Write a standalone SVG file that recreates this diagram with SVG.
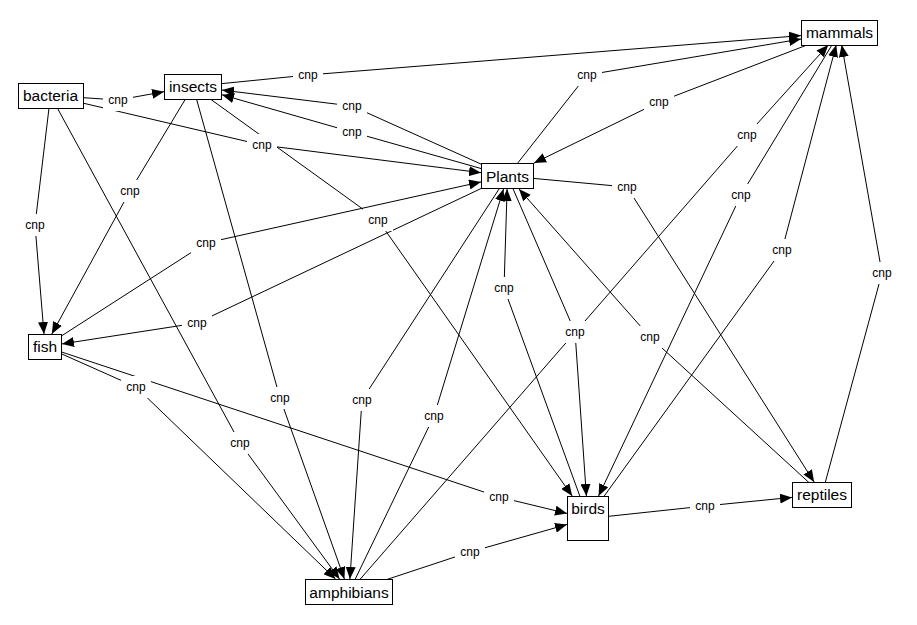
<svg xmlns="http://www.w3.org/2000/svg" width="917" height="625" viewBox="0 0 917 625">
<style>
.e{fill:none;stroke:#000;stroke-width:1;marker-end:url(#a)}
.n rect{fill:#fff;stroke:#000;stroke-width:1}
.n text{font-family:"Liberation Sans",Arial,sans-serif;font-size:15.5px;text-anchor:middle;fill:#000}
.l rect{fill:#fff;stroke:none}
.l text{font-family:"Liberation Sans",Arial,sans-serif;font-size:12px;text-anchor:middle;fill:#000}
</style>
<defs>
<marker id="a" markerWidth="12" markerHeight="10" refX="12" refY="5" orient="auto" markerUnits="userSpaceOnUse"><path d="M0,0 L12,5 L0,10 z" fill="#000"/></marker>
</defs>
<rect width="917" height="625" fill="#fff"/>
<g id="edges">
<path class="e" d="M50.5,95.5 L118,100 L164,91.7"/>
<path class="e" d="M193,86.5 L308,75 L801,35.6"/>
<path class="e" d="M507.5,176 L352,106 L222,90.1"/>
<path class="e" d="M507.5,176 L352,132 L222,94.8"/>
<path class="e" d="M50.5,95.5 L262,145 L481,172.7"/>
<path class="e" d="M507.5,176 L587,75 L801,39"/>
<path class="e" d="M839.5,32.5 L659,102 L534,163.1"/>
<path class="e" d="M349,592 L747,135 L828.2,45"/>
<path class="e" d="M839.5,32.5 L741,195 L598.6,496"/>
<path class="e" d="M588,518.5 L782,250 L836.2,45"/>
<path class="e" d="M507.5,176 L627,187 L814.1,482"/>
<path class="e" d="M193,86.5 L130,191 L51.8,334"/>
<path class="e" d="M50.5,95.5 L35,225 L44,334"/>
<path class="e" d="M45,346.5 L206,243 L481,181.9"/>
<path class="e" d="M193,86.5 L378,220 L572.2,496"/>
<path class="e" d="M507.5,176 L197,323 L62,343.9"/>
<path class="e" d="M588,518.5 L504,288 L507.1,189"/>
<path class="e" d="M507.5,176 L575,332 L586.4,496"/>
<path class="e" d="M822,494.5 L650,337 L519,189"/>
<path class="e" d="M822,494.5 L882,273 L841.7,45"/>
<path class="e" d="M45,346.5 L136,387 L335.5,579"/>
<path class="e" d="M193,86.5 L280,398 L344.4,579"/>
<path class="e" d="M507.5,176 L362,400 L349.9,579"/>
<path class="e" d="M349,592 L434,416 L503.5,189"/>
<path class="e" d="M50.5,95.5 L240,443 L339.5,579"/>
<path class="e" d="M45,346.5 L499,497 L567,513.4"/>
<path class="e" d="M588,518.5 L705,506 L792,497.4"/>
<path class="e" d="M349,592 L470,552 L567,524.5"/>
</g>
<g id="labels" class="l">
<g transform="translate(118,100)"><rect x="-15" y="-11" width="30" height="22"/><text y="4">cnp</text></g>
<g transform="translate(308,75)"><rect x="-15" y="-11" width="30" height="22"/><text y="4">cnp</text></g>
<g transform="translate(352,106)"><rect x="-15" y="-11" width="30" height="22"/><text y="4">cnp</text></g>
<g transform="translate(352,132)"><rect x="-15" y="-11" width="30" height="22"/><text y="4">cnp</text></g>
<g transform="translate(262,145)"><rect x="-15" y="-11" width="30" height="22"/><text y="4">cnp</text></g>
<g transform="translate(587,75)"><rect x="-15" y="-11" width="30" height="22"/><text y="4">cnp</text></g>
<g transform="translate(659,102)"><rect x="-15" y="-11" width="30" height="22"/><text y="4">cnp</text></g>
<g transform="translate(747,135)"><rect x="-15" y="-11" width="30" height="22"/><text y="4">cnp</text></g>
<g transform="translate(741,195)"><rect x="-15" y="-11" width="30" height="22"/><text y="4">cnp</text></g>
<g transform="translate(782,250)"><rect x="-15" y="-11" width="30" height="22"/><text y="4">cnp</text></g>
<g transform="translate(627,187)"><rect x="-15" y="-11" width="30" height="22"/><text y="4">cnp</text></g>
<g transform="translate(130,191)"><rect x="-15" y="-11" width="30" height="22"/><text y="4">cnp</text></g>
<g transform="translate(35,225)"><rect x="-15" y="-11" width="30" height="22"/><text y="4">cnp</text></g>
<g transform="translate(206,243)"><rect x="-15" y="-11" width="30" height="22"/><text y="4">cnp</text></g>
<g transform="translate(378,220)"><rect x="-15" y="-11" width="30" height="22"/><text y="4">cnp</text></g>
<g transform="translate(197,323)"><rect x="-15" y="-11" width="30" height="22"/><text y="4">cnp</text></g>
<g transform="translate(504,288)"><rect x="-15" y="-11" width="30" height="22"/><text y="4">cnp</text></g>
<g transform="translate(575,332)"><rect x="-15" y="-11" width="30" height="22"/><text y="4">cnp</text></g>
<g transform="translate(650,337)"><rect x="-15" y="-11" width="30" height="22"/><text y="4">cnp</text></g>
<g transform="translate(882,273)"><rect x="-15" y="-11" width="30" height="22"/><text y="4">cnp</text></g>
<g transform="translate(136,387)"><rect x="-15" y="-11" width="30" height="22"/><text y="4">cnp</text></g>
<g transform="translate(280,398)"><rect x="-15" y="-11" width="30" height="22"/><text y="4">cnp</text></g>
<g transform="translate(362,400)"><rect x="-15" y="-11" width="30" height="22"/><text y="4">cnp</text></g>
<g transform="translate(434,416)"><rect x="-15" y="-11" width="30" height="22"/><text y="4">cnp</text></g>
<g transform="translate(240,443)"><rect x="-15" y="-11" width="30" height="22"/><text y="4">cnp</text></g>
<g transform="translate(499,497)"><rect x="-15" y="-11" width="30" height="22"/><text y="4">cnp</text></g>
<g transform="translate(705,506)"><rect x="-15" y="-11" width="30" height="22"/><text y="4">cnp</text></g>
<g transform="translate(470,552)"><rect x="-15" y="-11" width="30" height="22"/><text y="4">cnp</text></g>
</g>
<g id="node-bacteria" class="n"><rect x="18.5" y="83.5" width="65" height="25"/><text x="50.5" y="101">bacteria</text></g>
<g id="node-insects" class="n"><rect x="164.5" y="74.5" width="57" height="25"/><text x="193" y="92">insects</text></g>
<g id="node-mammals" class="n"><rect x="801.5" y="20.5" width="76" height="25"/><text x="839.5" y="38">mammals</text></g>
<g id="node-plants" class="n"><rect x="481.5" y="163.5" width="52" height="25"/><text x="507.5" y="181.5">Plants</text></g>
<g id="node-fish" class="n"><rect x="28.5" y="334.5" width="33" height="25"/><text x="45" y="352">fish</text></g>
<g id="node-birds" class="n"><rect x="567.5" y="496.5" width="41" height="44"/><text x="588" y="514">birds</text></g>
<g id="node-reptiles" class="n"><rect x="792.5" y="482.5" width="59" height="25"/><text x="822" y="500">reptiles</text></g>
<g id="node-amphibians" class="n"><rect x="305.5" y="579.5" width="87" height="25"/><text x="349" y="597.5">amphibians</text></g>
</svg>
